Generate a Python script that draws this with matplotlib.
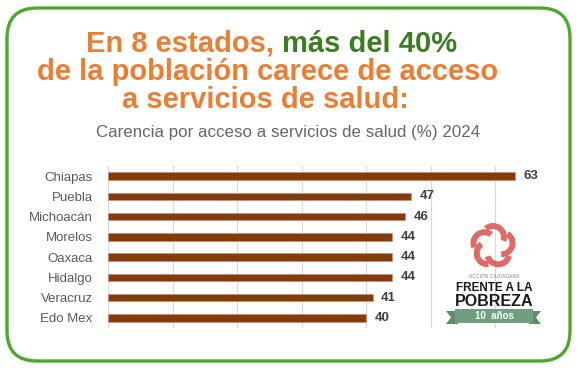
import matplotlib
matplotlib.use("Agg")
import matplotlib.pyplot as plt
from matplotlib.patches import FancyBboxPatch, Wedge, Polygon, Rectangle
import math

# data
estados = ["Chiapas", "Puebla", "Michoacán", "Morelos", "Oaxaca", "Hidalgo", "Veracruz", "Edo Mex"]
valores = [63, 47, 46, 44, 44, 44, 41, 40]
gridticks = [0, 10, 20, 30, 40, 50, 60]

W, H = 582, 375
fig = plt.figure(figsize=(W / 100, H / 100), dpi=100)
fig.patch.set_facecolor("white")

# overlay axes in pixel coords (border, titles, logo)
ov = fig.add_axes([0, 0, 1, 1])
ov.set_xlim(0, W)
ov.set_ylim(H, 0)
ov.axis("off")

ov.add_patch(FancyBboxPatch((7, 8), 563, 353, boxstyle="round,pad=0,rounding_size=30",
                            fc="white", ec="#4ea72e", lw=2.4, zorder=0))

orange = "#ed7d31"
green = "#3a7d22"
tfont = dict(family="Liberation Sans", weight="bold", fontsize=21)
t1 = ov.text(86, 44, "En 8 estados, ", color=orange, ha="left", va="center", **tfont)
fig.canvas.draw()
bb = t1.get_window_extent()
ov.text(bb.x1, 44, "más del 40%", color=green, ha="left", va="center", **tfont)
ov.text(268, 72, "de la población carece de acceso", color=orange, ha="center", va="center", **tfont)
ov.text(265, 100, "a servicios de salud:", color=orange, ha="center", va="center", **tfont)

ov.text(288, 133, "Carencia por acceso a servicios de salud (%) 2024", color="#666666",
        ha="center", va="center", family="Liberation Sans", fontsize=12.2)

# bar chart
ax = fig.add_axes([108 / W, 1 - 328 / H, 452 / W, 162 / H])
ax.set_facecolor("none")
ypos = list(range(len(estados)))
ax.barh(ypos, valores, height=0.36, color="#843c0c", edgecolor="#c8907a", linewidth=0.5, zorder=3)
ax.set_xlim(0, 70)
ax.set_ylim(len(estados) - 0.5, -0.5)
ax.set_xticks(gridticks)
ax.set_xticklabels([])
ax.xaxis.grid(True, color="#d9d9d9", lw=0.9, zorder=0)
ax.set_yticks(ypos)
ax.set_yticklabels(estados, fontsize=9.5, color="#595959", family="Liberation Sans")
ax.tick_params(axis="both", length=0)
ax.tick_params(axis="y", pad=11)
for s in ax.spines.values():
    s.set_visible(False)
for y, v in zip(ypos, valores):
    ax.annotate(str(v), (v, y), xytext=(6, 0), textcoords="offset points", ha="left", va="center",
                fontsize=9.5, weight="bold", color="#404040", family="Liberation Sans")

# logo
lg = fig.add_axes([0, 0, 1, 1], zorder=5)
lg.set_xlim(0, W)
lg.set_ylim(H, 0)
lg.axis("off")
cx, cy = 493, 246
for k in range(5):
    a = math.radians(90 + 72 * k)
    px = cx + 9 * math.cos(a)
    py = cy - 9 * math.sin(a)
    ang = 90 + 72 * k
    lg.add_patch(Wedge((px, py), 14, -ang - 40, -ang + 110, width=6, fc="#dd5a58", ec="none", alpha=0.9))
lg.text(494, 277, "ACCIÓN CIUDADANA", fontsize=3.6, color="#888888", ha="center", va="center",
        family="Liberation Sans")
lg.text(494, 288, "FRENTE A LA", fontsize=8.5, weight="bold", color="#1a1a1a", ha="center", va="center",
        family="Liberation Sans")
lg.text(494, 301, "POBREZA", fontsize=11.5, weight="bold", color="#1a1a1a", ha="center", va="center",
        family="Liberation Sans")
lg.add_patch(Polygon([(446, 311), (458, 311), (458, 324), (446, 324), (451, 317.5)],
                     closed=True, fc="#5f8a6c", ec="none"))
lg.add_patch(Polygon([(541, 311), (529, 311), (529, 324), (541, 324), (536, 317.5)],
                     closed=True, fc="#5f8a6c", ec="none"))
lg.add_patch(Rectangle((455, 309), 78, 14, fc="#729e80", ec="none"))
lg.text(494, 316, "10  años", fontsize=7, weight="bold", color="white", ha="center", va="center",
        family="Liberation Sans")

fig.savefig("out.png", dpi=100, facecolor="white")
